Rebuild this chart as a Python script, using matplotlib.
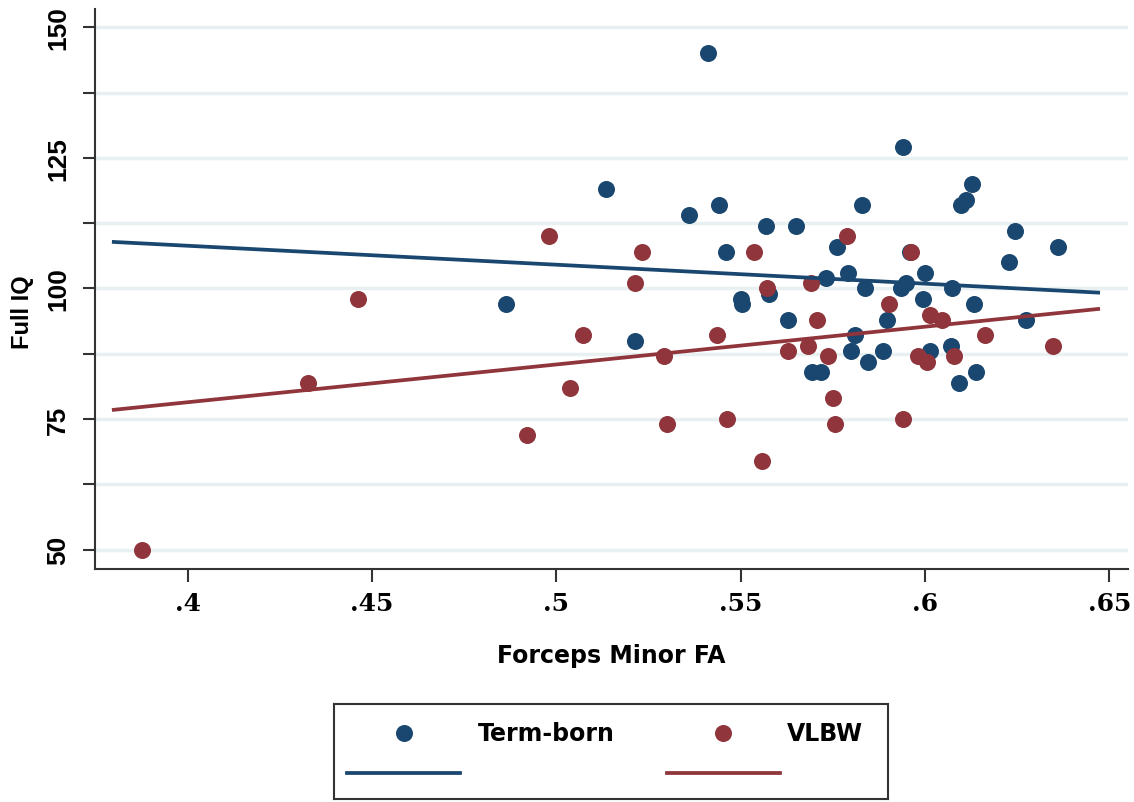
import numpy as np
import matplotlib.pyplot as plt

# forceps minor FA vs full-scale IQ, two groups
term_fa = [0.4865, 0.5136, 0.5214, 0.5360, 0.5442, 0.5411, 0.5460, 0.5500, 0.5504,
           0.5570, 0.5576, 0.5651, 0.5629, 0.5694, 0.5719, 0.5732, 0.5761, 0.5791,
           0.5800, 0.5811, 0.5829, 0.5838, 0.5847, 0.5887, 0.5896, 0.5934, 0.5941,
           0.5949, 0.5960, 0.5994, 0.6001, 0.6014, 0.6070, 0.6074, 0.6092, 0.6097,
           0.6112, 0.6128, 0.6132, 0.6139, 0.6228, 0.6245, 0.6274, 0.6362]
term_iq = [97, 119, 90, 114, 116, 145, 107, 98, 97,
           112, 99, 112, 94, 84, 84, 102, 108, 103,
           88, 91, 116, 100, 86, 88, 94, 100, 127,
           101, 107, 98, 103, 88, 89, 100, 82, 116,
           117, 120, 97, 84, 105, 111, 94, 108]

vlbw_fa = [0.3876, 0.4327, 0.4462, 0.4920, 0.4981, 0.5037, 0.5073, 0.5213, 0.5233,
           0.5293, 0.5301, 0.5437, 0.5464, 0.5536, 0.5558, 0.5571, 0.5629, 0.5682,
           0.5690, 0.5708, 0.5737, 0.5752, 0.5755, 0.5788, 0.5903, 0.5941, 0.5962,
           0.5982, 0.6005, 0.6014, 0.6046, 0.6079, 0.6164, 0.6347]
vlbw_iq = [50, 82, 98, 72, 110, 81, 91, 101, 107,
           87, 74, 91, 75, 107, 67, 100, 88, 89,
           101, 94, 87, 79, 74, 110, 97, 75, 107,
           87, 86, 95, 94, 87, 91, 89]

# linear fits: (intercept, slope)
term_fit = (122.7, -36.3)
vlbw_fit = (49.3, 72.3)
fit_range = [0.38, 0.647]
group_names = ['Term-born', 'VLBW']
x_ticks = [0.4, 0.45, 0.5, 0.55, 0.6, 0.65]
x_labels = ['.4', '.45', '.5', '.55', '.6', '.65']
y_ticks = [50, 75, 100, 125, 150]

navy = '#1a476f'
maroon = '#90353b'
grid_col = '#e8f0f1'
axis_col = '#333333'

W, H = 1134, 803
fig = plt.figure(figsize=(W / 100, H / 100), dpi=100)
ax = fig.add_axes([95 / W, 1 - 570 / H, (1128 - 95) / W, 560 / H])

ax.scatter(term_fa, term_iq, s=150, color=navy, lw=0, zorder=3)
ax.scatter(vlbw_fa, vlbw_iq, s=150, color=maroon, lw=0, zorder=3)

xs = np.array(fit_range)
for (a, b), col in [(term_fit, navy), (vlbw_fit, maroon)]:
    ax.plot(xs, a + b * xs, color=col, lw=2.7, zorder=4)

ax.set_xlim(0.3749, 0.6551)
ax.set_ylim(46.3, 153.5)
ax.set_xticks(x_ticks, x_labels, fontfamily='DejaVu Serif', fontweight='bold', fontsize=18)
ax.set_yticks(y_ticks, [str(v) for v in y_ticks], fontfamily='Liberation Sans',
              fontweight='bold', fontsize=19, rotation=90, va='center')
ax.set_yticks([62.5, 87.5, 112.5, 137.5], minor=True)
ax.grid(axis='y', which='both', color=grid_col, lw=2.5)
ax.set_axisbelow(True)

for side in ['top', 'right']:
    ax.spines[side].set_visible(False)
for side in ['left', 'bottom']:
    ax.spines[side].set_color(axis_col)
    ax.spines[side].set_linewidth(1.5)

ax.tick_params(axis='both', which='both', length=9, width=1.5, color=axis_col)
ax.tick_params(axis='x', pad=7)
ax.tick_params(axis='y', pad=9)

narrow = ['Liberation Sans Narrow', 'DejaVu Sans']
fig.text(611 / W, 1 - 656 / H, 'Forceps Minor FA', ha='center', va='center',
         fontsize=17, fontweight='bold', family=narrow)
fig.text(22 / W, 1 - 312 / H, 'Full IQ', ha='center', va='center', rotation=90,
         fontsize=17, fontweight='bold', family=['Liberation Sans'])

# legend box, drawn in pixel units
lax = fig.add_axes([334 / W, 1 - 800 / H, (888 - 334) / W, 95 / H])
lax.set_xlim(334, 888)
lax.set_ylim(800, 705)
lax.set_xticks([])
lax.set_yticks([])
for sp in lax.spines.values():
    sp.set_color(axis_col)
    sp.set_linewidth(1.5)

lax.scatter([404], [734], s=150, color=navy, lw=0)
lax.scatter([723], [734], s=150, color=maroon, lw=0)
lax.plot([347, 460], [774, 774], color=navy, lw=2.7)
lax.plot([667, 780], [774, 774], color=maroon, lw=2.7)
lax.text(478, 734, group_names[0], ha='left', va='center', fontsize=17,
         fontweight='bold', family=narrow)
lax.text(787, 734, group_names[1], ha='left', va='center', fontsize=17,
         fontweight='bold', family=narrow)

fig.savefig('out.png', dpi=100)
